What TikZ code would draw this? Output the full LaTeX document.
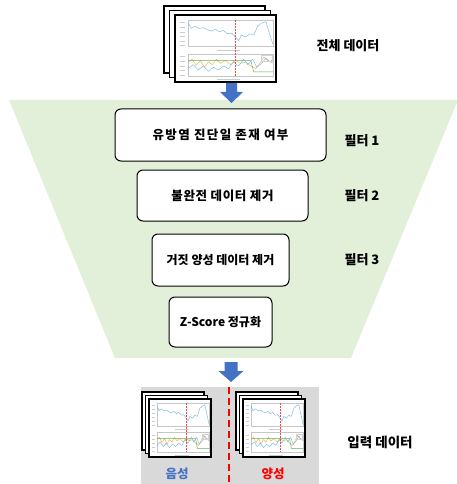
\documentclass[tikz,border=0pt]{standalone}
\usepackage{fontspec}
\setmainfont{Noto Sans CJK KR}
\definecolor{trapgreen}{HTML}{E2F0D9}
\definecolor{arrowblue}{HTML}{4472C4}
\definecolor{greybg}{HTML}{D9D9D9}
\definecolor{plotblue}{HTML}{7DB8E0}
\definecolor{plotorange}{HTML}{F2B04A}
\definecolor{plotgreen}{HTML}{58B45E}
\definecolor{plotred}{HTML}{F04848}
\definecolor{negblue}{HTML}{4472C4}
\definecolor{posred}{HTML}{FF0000}
\newcommand\mychartbody{%
  \draw[gray!45,line width=0.3pt] (0.13,0.07) rectangle (0.97,0.47);
  \draw[gray!45,line width=0.3pt] (0.13,0.58) rectangle (0.97,0.92);
  \foreach \yy in {0.11,0.18,0.25,0.32,0.39,0.45} {\draw[gray!40,line width=0.3pt] (0.05,\yy)--(0.1,\yy);}
  \foreach \yy in {0.62,0.69,0.76,0.83,0.9} {\draw[gray!40,line width=0.3pt] (0.05,\yy)--(0.1,\yy);}
  \draw[gray!40,line width=0.3pt] (0.42,0.52)--(0.64,0.52);
  \draw[gray!40,line width=0.3pt] (0.42,0.96)--(0.64,0.96);
  \draw[plotblue,line width=0.45pt] (0.13,0.12)--(0.16,0.2)--(0.2,0.17)--(0.24,0.2)--(0.28,0.19)--(0.32,0.22)--(0.36,0.24)--(0.4,0.21)--(0.44,0.25)--(0.48,0.23)--(0.52,0.28)--(0.56,0.27)--(0.6,0.33)--(0.63,0.38)--(0.66,0.3)--(0.7,0.33)--(0.74,0.28)--(0.78,0.3)--(0.82,0.16)--(0.86,0.12)--(0.9,0.1)--(0.93,0.25)--(0.97,0.44);
  \draw[plotorange,line width=0.45pt] (0.13,0.7)--(0.17,0.66)--(0.21,0.75)--(0.25,0.68)--(0.29,0.78)--(0.33,0.7)--(0.37,0.74)--(0.41,0.66)--(0.45,0.72)--(0.5,0.68)--(0.55,0.74)--(0.6,0.68)--(0.65,0.72)--(0.7,0.7)--(0.75,0.76)--(0.8,0.8)--(0.85,0.7)--(0.88,0.63)--(0.92,0.68)--(0.97,0.72);
  \draw[plotgreen,line width=0.45pt] (0.13,0.68)--(0.75,0.68)--(0.78,0.85)--(0.97,0.85);
  \draw[plotblue,line width=0.45pt] (0.13,0.8)--(0.18,0.74)--(0.23,0.82)--(0.28,0.76)--(0.33,0.84)--(0.38,0.78)--(0.43,0.82)--(0.48,0.76)--(0.53,0.8)--(0.58,0.7)--(0.63,0.76)--(0.68,0.66)--(0.72,0.74)--(0.77,0.66)--(0.81,0.78)--(0.86,0.72)--(0.9,0.64)--(0.94,0.7)--(0.97,0.66);
  \draw[gray!35,line width=0.25pt] (0.85,0.6) rectangle (0.96,0.69);
  \draw[plotred,line width=0.5pt,dash pattern=on 2pt off 1pt] (0.6,0.07)--(0.6,0.92);
}
\newcommand\mystack[7]{%
  \foreach \k in {2,1} {\filldraw[fill=white,draw=black,line width=#7] ({#1-\k*#5},{#2-\k*#6}) rectangle ++(#3,#4);}
  \filldraw[fill=white,draw=black,line width=#7] (#1,#2) rectangle ++(#3,#4);
  \begin{scope}[shift={(#1,#2)},xscale=#3,yscale=#4]\mychartbody\end{scope}
}
\tikzset{
  fbox/.style={draw=black,line width=1pt,fill=white,rounded corners=6pt,align=center,inner sep=0pt},
  boxtext/.style={font=\bfseries\fontsize{12.5}{14}\selectfont},
  sidelabel/.style={font=\bfseries\fontsize{13}{15}\selectfont,inner sep=0pt},
  blockarrow/.style={fill=arrowblue,draw=none}
}
\begin{document}
\begin{tikzpicture}[x=1pt,y=-1pt]
\useasboundingbox (0,0) rectangle (456,484);
% funnel
\fill[trapgreen] (9,100) -- (458,100) -- (351,358) -- (115,358) -- cycle;
% top stack
\mystack{175}{15}{101}{67}{5.5}{4.5}{1.6pt}
% top arrow
\fill[blockarrow] (226,83) -- (237,83) -- (237,92) -- (243,92) -- (231.5,103) -- (220,92) -- (226,92) -- cycle;
\node[sidelabel] (all) at (348,46) {전체 데이터};
% filter boxes
\node[fbox,minimum width=211pt,minimum height=52pt] (b1) at (220.5,135) {};
\node[boxtext] at (b1) {\addfontfeature{LetterSpace=11}유방염 진단일 존재 여부};
\node[fbox,minimum width=171pt,minimum height=51pt] (b2) at (222.5,195.5) {};
\node[boxtext] at (b2) {\addfontfeature{LetterSpace=5}불완전 데이터 제거};
\node[fbox,minimum width=137pt,minimum height=52pt,font=\bfseries\fontsize{12}{14}\selectfont] (b3) at (220.5,260) {거짓 양성 데이터 제거};
\node[fbox,minimum width=103pt,minimum height=50pt,font=\bfseries\fontsize{12}{14}\selectfont] (b4) at (220.5,322) {Z-Score 정규화};
\node[sidelabel] (f1) at (362,140.5) {필터 1};
\node[sidelabel] (f2) at (362,196) {필터 2};
\node[sidelabel] (f3) at (362,260) {필터 3};
% bottom arrow
\fill[blockarrow] (224.5,362) -- (237.5,362) -- (237.5,371) -- (243.5,371) -- (231,382) -- (218.5,371) -- (224.5,371) -- cycle;
% input data panel
\fill[greybg] (141,387) rectangle (319,484);
\coordinate (dtop) at (229,387);
\coordinate (dbot) at (229,484);
\draw[posred,line width=2.5pt,dash pattern=on 7pt off 4pt] (dtop) -- (dbot);
\mystack{149}{399}{62}{58}{3.5}{3.5}{1.8pt}
\mystack{243}{399}{62}{58}{3.5}{3.5}{1.8pt}
\node[font=\bfseries\fontsize{12.5}{14}\selectfont,text=negblue,inner sep=0pt] (neg) at (177,474) {음성};
\node[font=\bfseries\fontsize{12.5}{14}\selectfont,text=posred,inner sep=0pt] (pos) at (273,474) {양성};
\node[sidelabel,font=\bfseries\fontsize{13.5}{15}\selectfont] (inp) at (380,442) {입력 데이터};
\end{tikzpicture}
\end{document}
